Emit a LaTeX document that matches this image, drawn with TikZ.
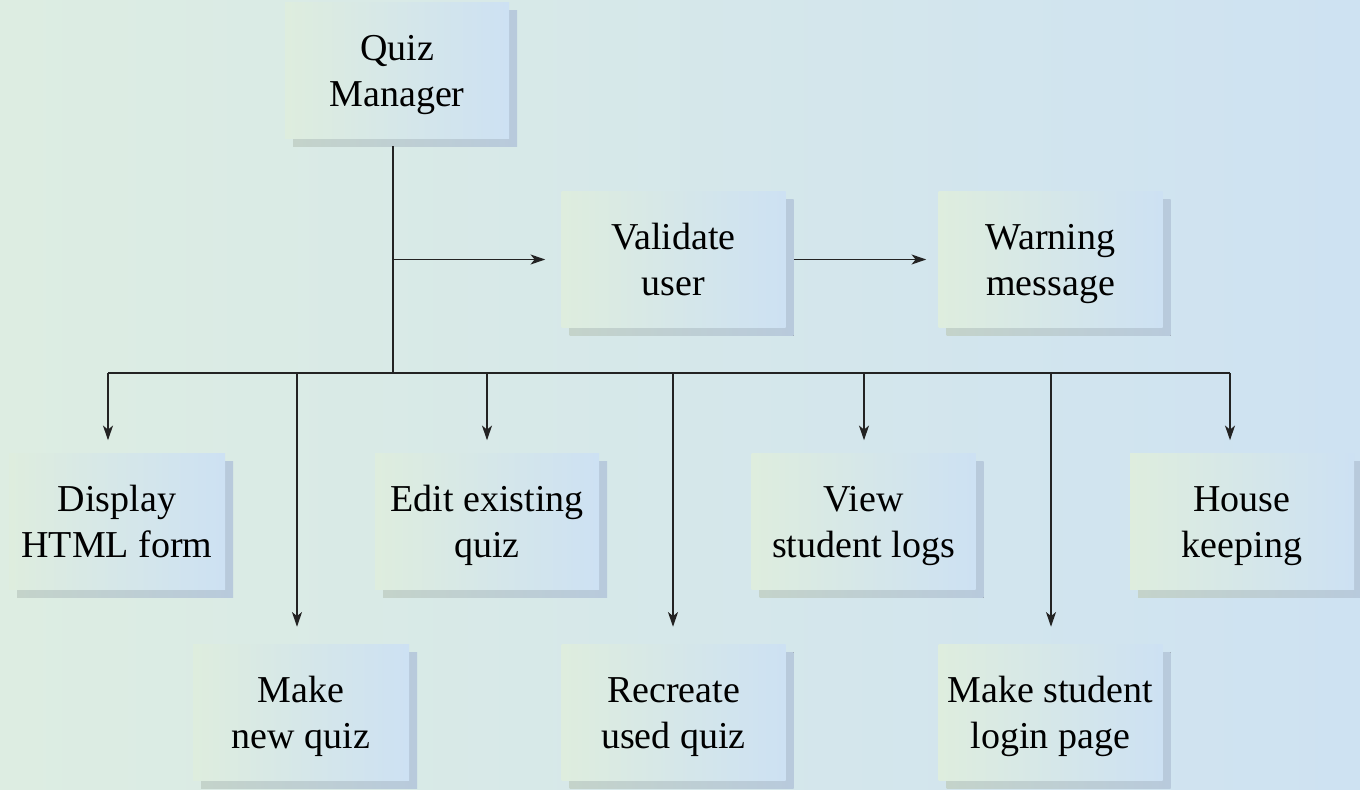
\documentclass[tikz,border=0pt]{standalone}
\usepackage{fontspec}
\setmainfont{Liberation Serif}
\usetikzlibrary{shadows,shadings,arrows.meta}
\definecolor{bgL}{RGB}{221,237,226}
\definecolor{bgR}{RGB}{206,226,242}
\definecolor{boxL}{RGB}{222,237,222}
\definecolor{boxR}{RGB}{205,225,243}
\definecolor{shL}{RGB}{196,211,202}
\definecolor{shR}{RGB}{184,202,220}
\definecolor{linecol}{RGB}{35,35,35}
\newcommand\tstr{\rule{0pt}{27pt}}
\newcommand\bstr{\rule[-7.5pt]{0pt}{7.5pt}}
\tikzset{
  box/.style={rectangle, inner sep=0pt, align=center,
    minimum width=168pt, minimum height=102pt,
    left color=boxL, right color=boxR, draw=none,
    font=\fontsize{28.5}{34.5}\selectfont,
    drop shadow={shadow xshift=6pt, shadow yshift=-6pt, opacity=1,
      left color=shL, right color=shR}},
  narrowbox/.style={box, minimum width=162pt},
  conn/.style={draw=linecol, line width=1.1pt},
  arr/.style={conn, -{Stealth[length=11pt,width=7.5pt,inset=3pt]}}
}
\begin{document}
\begin{tikzpicture}[x=0.75pt,y=-0.75pt]
\fill[left color=bgL, right color=bgR] (0,0) rectangle (1360,789);
\useasboundingbox (0,0) rectangle (1360,789);

\node[box] (qm) at (397,70) {\tstr Quiz\\\bstr Manager};
\node[box] (val) at (673.5,259.5) {\tstr Validate\\\bstr user};
\node[box] (warn) at (1050.5,259.5) {\tstr Warning\\\bstr message};
\node[narrowbox] (disp) at (117,521.5) {\tstr Display\\\bstr HTML form};
\node[box] (edit) at (487,521.5) {\tstr Edit existing\\\bstr quiz};
\node[box] (view) at (863.5,521.5) {\tstr View\\\bstr student logs};
\node[box] (house) at (1242,521.5) {\tstr House\\\bstr keeping};
\node[narrowbox] (mnew) at (301,712) {\tstr Make\\\bstr new quiz};
\node[box] (recr) at (673.5,712) {\tstr Recreate\\\bstr used quiz};
\node[box] (mstu) at (1050.5,712) {\tstr Make student\\\bstr login page};

\coordinate (trunk) at (393,373);
\coordinate (b1) at (108,373);
\coordinate (b2) at (297,373);
\coordinate (b3) at (487,373);
\coordinate (b4) at (673,373);
\coordinate (b5) at (864,373);
\coordinate (b6) at (1051,373);
\coordinate (b7) at (1230,373);

\draw[conn] ([yshift=-6pt]qm.south -| trunk) -- (trunk);
\draw[arr, shorten >=12pt] (trunk |- val.west) -- (val.west);
\draw[arr, shorten >=9pt] ([xshift=6pt]val.east) -- (warn.west);
\draw[conn] (b1) -- (b7);

\draw[arr, shorten >=9.75pt] (b1) -- (b1 |- disp.north);
\draw[arr, shorten >=12.75pt] (b2) -- (b2 |- mnew.north);
\draw[arr, shorten >=9.75pt] (b3) -- (b3 |- edit.north);
\draw[arr, shorten >=12.75pt] (b4) -- (b4 |- recr.north);
\draw[arr, shorten >=9.75pt] (b5) -- (b5 |- view.north);
\draw[arr, shorten >=12.75pt] (b6) -- (b6 |- mstu.north);
\draw[arr, shorten >=9.75pt] (b7) -- (b7 |- house.north);
\end{tikzpicture}
\end{document}
